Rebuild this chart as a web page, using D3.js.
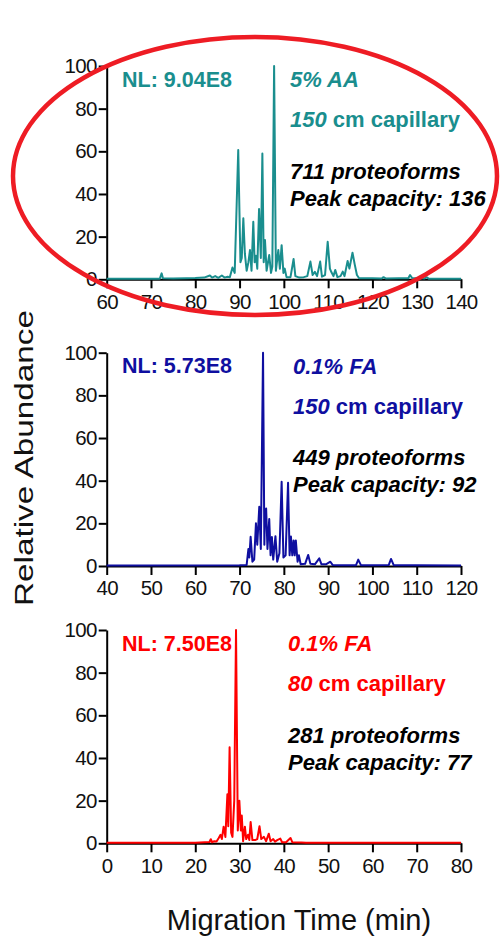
<!DOCTYPE html>
<html>
<head>
<meta charset="utf-8">
<script src="https://cdn.jsdelivr.net/npm/d3@7/dist/d3.min.js"></script>
<style>
  html, body { margin: 0; padding: 0; background: #fff; }
  svg { display: block; }
  text { font-family: "Liberation Sans", Arial, sans-serif; }
</style>
</head>
<body>
<svg id="chart" width="500" height="941"></svg>
<script>
// Electropherograms: three separations, relative abundance vs migration time.

// 5% acetic acid, 150 cm capillary
const aaTime = [60, 72.0, 72.4, 72.7, 75, 78, 80, 82, 83.3, 83.8, 84.5, 85.2, 86.0, 86.6, 87.3, 87.8, 88.4, 88.9,
  89.7, 90.2, 90.5, 90.85, 91.2, 91.6, 92.0, 92.35, 92.7, 93.1, 93.4, 93.7, 94.0, 94.4, 94.8, 95.15, 95.45, 95.74,
  96.1, 96.7, 97.1, 97.4, 97.8, 98.2, 98.75, 99.1, 99.5, 99.9, 100.2, 100.6, 101.5, 102.2, 102.6, 103.5, 104.5,
  105.3, 106.0, 106.5, 107.0, 107.5, 108.2, 108.6, 109.3, 109.9, 110.4, 110.7, 111.2, 111.6, 112.1, 112.8, 113.3,
  113.7, 114.4, 114.8, 115.5, 116.0, 116.5, 117.0, 120, 122.1, 122.5, 123, 126, 128.1, 128.5, 129, 131, 131.8, 132.2, 132.7, 140];
const aaAbundance = [0.3, 0.3, 2.8, 0.5, 0.4, 0.5, 0.6, 0.8, 1.8, 0.8, 1.5, 0.7, 1.8, 0.8, 1.2, 1.0, 5.5, 3,
  60.6, 8, 10, 28.6, 12, 4, 8, 13.7, 4, 27, 8, 11, 5, 33, 10, 59, 8, 18.4,
  4, 11.4, 3, 6, 100, 4, 13.7, 5, 16, 3, 5, 1, 1, 9.5, 1.5, 0.8, 1,
  1.5, 8.3, 2, 3.5, 1.5, 8.3, 1.2, 2, 17.6, 5, 3.5, 1.5, 4.4, 1, 1.5, 3.6,
  1.5, 8.6, 5, 12.5, 7, 2, 0.5, 0.5, 0.4, 1.0, 0.4, 0.5, 0.5, 2, 0.5, 0.5, 0.4, 1, 0.3, 0.3];

// 0.1% formic acid, 150 cm capillary
const faTime = [40, 70, 71.6, 72.0, 72.2, 72.5, 72.9, 73.3, 73.7, 74.0, 74.45, 74.8, 75.3, 75.6, 75.75, 76.0, 76.3,
  76.7, 77.0, 77.3, 77.6, 78.1, 78.5, 79.0, 79.5, 79.9, 80.4, 80.95, 81.3, 81.6, 81.9, 82.2, 82.45, 82.7, 83.1,
  83.4, 83.8, 84.8, 85.5, 86.0, 87.0, 88.0, 88.5, 89.5, 90.5, 91.0, 93, 96.3, 96.8, 97.4, 100, 103.7, 104.2, 104.8, 110, 120];
const faAbundance = [0.2, 0.3, 0.5, 8, 4, 13.7, 2, 3, 20, 10, 27.8, 8, 100, 10, 25, 27, 8,
  22, 5, 13.6, 3, 14, 2, 6, 39.5, 4, 5, 39, 5, 13.8, 5, 12, 5, 12, 2,
  5, 0.8, 1, 5.2, 1, 0.8, 3.6, 0.8, 0.8, 2, 0.5, 0.4, 0.4, 3, 0.4, 0.4, 0.5, 3.3, 0.4, 0.3, 0.2];

// 0.1% formic acid, 80 cm capillary
const fa80Time = [0, 20, 23.2, 23.5, 23.8, 24.3, 24.8, 25.3, 25.7, 26.0, 26.4, 26.8, 27.25, 27.45, 27.75, 28.1, 28.4,
  28.8, 29.2, 29.6, 29.95, 30.3, 30.5, 30.8, 31.2, 31.5, 31.9, 32.2, 32.5, 32.9, 33.5, 34.0, 34.5, 34.9, 35.5,
  36.0, 36.6, 37.0, 37.6, 38.0, 38.5, 39.2, 39.6, 40.5, 41.5, 41.9, 44, 45, 80];
const fa80Abundance = [0.3, 0.3, 0.6, 1.9, 0.5, 1, 0.8, 2.5, 4, 2, 7.8, 3, 23, 8, 45, 5, 3,
  20, 100, 6, 20, 6, 13, 1, 7.8, 2, 4, 1.5, 10, 1.5, 1.5, 2, 8, 2, 3,
  1, 4.5, 1, 2, 0.8, 1.5, 2.2, 0.5, 0.5, 2.5, 0.5, 0.4, 0.3, 0.3];

const aaTicks = [60, 70, 80, 90, 100, 110, 120, 130, 140];
const faTicks = [40, 50, 60, 70, 80, 90, 100, 110, 120];
const fa80Ticks = [0, 10, 20, 30, 40, 50, 60, 70, 80];
const abundanceTicks = [0, 20, 40, 60, 80, 100];

const normLevels = ["NL: 9.04E8", "NL: 5.73E8", "NL: 7.50E8"];
const modifiers = ["5% AA", "0.1% FA", "0.1% FA"];
const capillaryLengths = ["150", "150", "80"];
const proteoformCounts = ["711 proteoforms", "449 proteoforms", "281 proteoforms"];
const peakCapacities = ["Peak capacity: 136", "Peak capacity: 92", "Peak capacity: 77"];

const traceColors = ["#1a8e8e", "#0f0fa0", "#ff0000"];

const panels = [
  { time: aaTime, abundance: aaAbundance, ticks: aaTicks, top: 66, infoX: 290 },
  { time: faTime, abundance: faAbundance, ticks: faTicks, top: 352.7, infoX: 293 },
  { time: fa80Time, abundance: fa80Abundance, ticks: fa80Ticks, top: 630, infoX: 288 }
];

const svg = d3.select("#chart");
const left = 106.7, right = 461, plotH = 213.3;

panels.forEach((p, i) => {
  const x = d3.scaleLinear().domain(d3.extent(p.ticks)).range([left, right]);
  const y = d3.scaleLinear().domain([0, 100]).range([p.top + plotH, p.top]);
  const g = svg.append("g");

  const yAxis = g.append("g")
    .attr("transform", `translate(${left},0)`)
    .call(d3.axisLeft(y).tickValues(abundanceTicks).tickSize(8).tickSizeOuter(0).tickPadding(2));
  const xAxis = g.append("g")
    .attr("transform", `translate(0,${p.top + plotH})`)
    .call(d3.axisBottom(x).tickValues(p.ticks).tickSize(9).tickSizeOuter(0).tickPadding(5.8));

  [yAxis, xAxis].forEach(a => {
    a.select(".domain").attr("stroke", "#000").attr("stroke-width", 2);
    a.selectAll(".tick line").attr("stroke", "#000").attr("stroke-width", 2);
    a.selectAll(".tick text")
      .attr("fill", "#111")
      .style("font-size", "20.5px")
      .style("letter-spacing", "-0.7px");
  });

  const line = d3.line()
    .x((d, k) => x(p.time[k]))
    .y(d => y(d));

  g.append("path")
    .datum(p.abundance)
    .attr("d", line)
    .attr("fill", "none")
    .attr("stroke", traceColors[i])
    .attr("stroke-width", 2)
    .attr("stroke-linejoin", "round");

  // annotations
  g.append("text")
    .attr("x", 122).attr("y", p.top + 20.5)
    .attr("fill", traceColors[i])
    .style("font-size", "21.5px").style("font-weight", "bold")
    .text(normLevels[i]);

  g.append("text")
    .attr("x", p.infoX).attr("y", p.top + 21)
    .attr("fill", traceColors[i])
    .style("font-size", "22px").style("font-weight", "bold").style("font-style", "italic")
    .text(modifiers[i]);

  const cap = g.append("text")
    .attr("x", p.infoX).attr("y", p.top + 61)
    .attr("fill", traceColors[i])
    .style("font-size", "22px").style("font-weight", "bold");
  cap.append("tspan").style("font-style", "italic").text(capillaryLengths[i]);
  cap.append("tspan").text(" cm capillary");

  g.append("text")
    .attr("x", p.infoX).attr("y", p.top + 112.7)
    .attr("fill", "#000")
    .style("font-size", "22px").style("font-weight", "bold").style("font-style", "italic")
    .text(proteoformCounts[i]);

  g.append("text")
    .attr("x", p.infoX).attr("y", p.top + 139.5)
    .attr("fill", "#000")
    .style("font-size", "22px").style("font-weight", "bold").style("font-style", "italic")
    .text(peakCapacities[i]);
});

// shared axis titles
svg.append("text")
  .attr("transform", "translate(33,458) rotate(-90)")
  .attr("text-anchor", "middle")
  .attr("fill", "#111")
  .attr("textLength", 296)
  .attr("lengthAdjust", "spacingAndGlyphs")
  .style("font-size", "25px")
  .text("Relative Abundance");

svg.append("text")
  .attr("x", 299).attr("y", 930)
  .attr("text-anchor", "middle")
  .attr("fill", "#111")
  .style("font-size", "29px")
  .text("Migration Time (min)");

// highlight ring around the acetic-acid trace
svg.append("ellipse")
  .attr("cx", 255).attr("cy", 176)
  .attr("rx", 242).attr("ry", 139)
  .attr("fill", "none")
  .attr("stroke", "#ee1c24")
  .attr("stroke-width", 4.5);
</script>
</body>
</html>
